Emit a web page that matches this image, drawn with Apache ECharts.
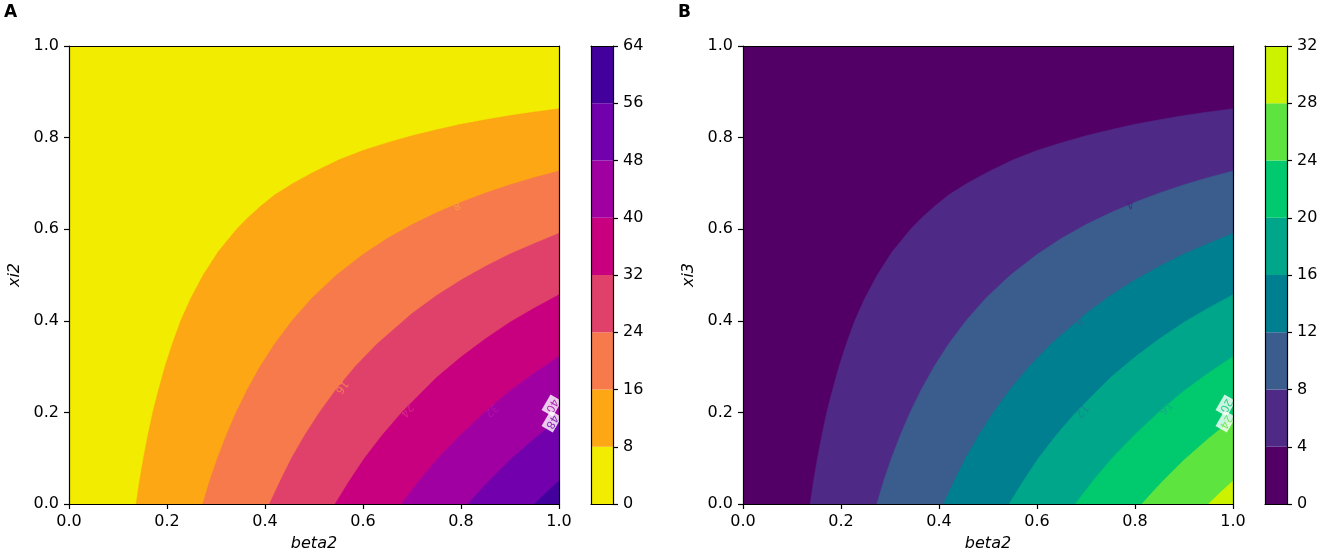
<!DOCTYPE html>
<html>
<head>
<meta charset="utf-8">
<script src="https://cdn.jsdelivr.net/npm/echarts@6/dist/echarts.min.js"></script>
<style>
  html, body { margin: 0; padding: 0; background: #fff; }
  #chart { width: 1325px; height: 560px; }
</style>
</head>
<body>
<div id="chart"></div>
<script>
// contour levels shown on the two colour bars
const levelsA = [0, 8, 16, 24, 32, 40, 48, 56, 64];
const levelsB = [0, 4, 8, 12, 16, 20, 24, 28, 32];
const colorsA = ['#f2ec00', '#fca713', '#f77a4c', '#e0416a', '#c8007f', '#a000a2', '#7200ac', '#44009c'];
const colorsB = ['#530066', '#4e2a86', '#3a5d8e', '#007f90', '#00a68a', '#00c96e', '#5ee43e', '#cdf200'];

// contour boundaries, [beta2, xi], from bottom edge to right edge
// (both panels share the same boundary shapes)
const edge1 = [[0.137, 0], [0.144, 0.05], [0.152, 0.1], [0.161, 0.15], [0.171, 0.2], [0.183, 0.25], [0.196, 0.3],
    [0.211, 0.35], [0.228, 0.4], [0.249, 0.45], [0.274, 0.5], [0.304, 0.55], [0.342, 0.6], [0.365, 0.625],
    [0.391, 0.65], [0.42, 0.675], [0.457, 0.7], [0.5, 0.725], [0.55, 0.751], [0.6, 0.772], [0.65, 0.789],
    [0.7, 0.804], [0.75, 0.817], [0.8, 0.829], [0.85, 0.839], [0.9, 0.848], [0.95, 0.856], [1, 0.863]];
const edge2 = [[0.273, 0], [0.287, 0.05], [0.303, 0.1], [0.321, 0.15], [0.341, 0.2], [0.364, 0.25], [0.39, 0.3],
    [0.42, 0.35], [0.455, 0.4], [0.496, 0.45], [0.546, 0.5], [0.6, 0.545], [0.65, 0.58], [0.7, 0.61],
    [0.75, 0.636], [0.8, 0.659], [0.85, 0.679], [0.9, 0.697], [0.95, 0.713], [1, 0.727]];
const edge3 = [[0.409, 0], [0.431, 0.05], [0.454, 0.1], [0.481, 0.15], [0.511, 0.2], [0.545, 0.25], [0.584, 0.3],
    [0.629, 0.35], [0.7, 0.416], [0.75, 0.455], [0.8, 0.489], [0.85, 0.519], [0.9, 0.546], [0.95, 0.569], [1, 0.591]];
const edge4 = [[0.543, 0], [0.572, 0.05], [0.603, 0.1], [0.639, 0.15], [0.679, 0.2], [0.75, 0.276], [0.8, 0.321],
    [0.85, 0.361], [0.9, 0.397], [0.95, 0.428], [1, 0.457]];
const edge5 = [[0.678, 0], [0.714, 0.05], [0.753, 0.1], [0.8, 0.152], [0.85, 0.202], [0.9, 0.247], [0.95, 0.286], [1, 0.322]];
const edge6 = [[0.814, 0], [0.835, 0.025], [0.857, 0.05], [0.9, 0.096], [0.95, 0.143], [1, 0.186]];
const edge7 = [[0.95, 0], [0.975, 0.026], [1, 0.05]];
const edges = [edge1, edge2, edge3, edge4, edge5, edge6, edge7];

// inline contour labels: [beta2, xi, text, rotation, colour]
const labelsA = [
    [0.791, 0.652, '8', -156, '#f9a43a'],
    [0.556, 0.256, '16', -127, '#f58a4e'],
    [0.689, 0.205, '24', -131, '#d6338a'],
    [0.862, 0.205, '32', -137, '#b416a6'],
    [0.985, 0.215, '40', -120, '#a000a2'],
    [0.985, 0.18, '48', -120, '#7200ac']
];
const labelsB = [
    [0.789, 0.655, '4', -156, '#4a1f7e'],
    [0.684, 0.40, '8', -139, '#3a5d8e'],
    [0.691, 0.204, '12', -131, '#1b7f8e'],
    [0.862, 0.211, '16', -137, '#12a78a'],
    [0.985, 0.215, '20', -120, '#00c96e'],
    [0.985, 0.18, '24', -120, '#5ee43e']
];

const FONT = 'DejaVu Sans';
const black = '#000';

const chart = echarts.init(document.getElementById('chart'));

// spine-only axis (no ticks, no labels)
function lineOnly(gi, pos, min, max) {
    return {
        gridIndex: gi, type: 'value', min: min, max: max, position: pos,
        axisLine: { show: true, onZero: false, lineStyle: { color: black, width: 1.2 } },
        axisTick: { show: false }, axisLabel: { show: false }, splitLine: { show: false }, z: 10
    };
}

function tickAxis(gi, pos, min, max, step, name, fmt) {
    return {
        gridIndex: gi, type: 'value', min: min, max: max, interval: step, position: pos,
        name: name, nameLocation: 'middle', nameGap: pos === 'bottom' ? 32 : 46,
        nameTextStyle: { fontStyle: 'italic', fontSize: 16, color: black, fontFamily: FONT },
        axisLine: { show: true, onZero: false, lineStyle: { color: black, width: 1.2 } },
        axisTick: { show: true, inside: false, length: 5, lineStyle: { color: black, width: 1.2 } },
        axisLabel: { fontSize: 16, color: black, margin: 10, fontFamily: FONT, formatter: fmt, showMinLabel: true, showMaxLabel: true },
        splitLine: { show: false }, z: 10
    };
}

const fmt1 = v => v.toFixed(1);
const fmt0 = v => String(v);

const grids = [
    { left: 69, top: 46, width: 490, height: 458 },
    { left: 591, top: 46, width: 22, height: 458 },
    { left: 743, top: 46, width: 490, height: 458 },
    { left: 1265, top: 46, width: 22, height: 458 }
];

// xAxis: 0,1 plot A; 2,3 colourbar A; 4,5 plot B; 6,7 colourbar B
const xAxes = [
    tickAxis(0, 'bottom', 0, 1, 0.2, 'beta2', fmt1), lineOnly(0, 'top', 0, 1),
    lineOnly(1, 'bottom', 0, 1), lineOnly(1, 'top', 0, 1),
    tickAxis(2, 'bottom', 0, 1, 0.2, 'beta2', fmt1), lineOnly(2, 'top', 0, 1),
    lineOnly(3, 'bottom', 0, 1), lineOnly(3, 'top', 0, 1)
];
const yAxes = [
    tickAxis(0, 'left', 0, 1, 0.2, 'xi2', fmt1), lineOnly(0, 'right', 0, 1),
    lineOnly(1, 'left', 0, 64), tickAxis(1, 'right', 0, 64, 8, '', fmt0),
    tickAxis(2, 'left', 0, 1, 0.2, 'xi3', fmt1), lineOnly(2, 'right', 0, 1),
    lineOnly(3, 'left', 0, 32), tickAxis(3, 'right', 0, 32, 4, '', fmt0)
];

// filled bands: paint whole area, then each region below/right of a boundary
function contourSeries(xi, yi, colors) {
    return {
        type: 'custom', xAxisIndex: xi, yAxisIndex: yi, silent: true, clip: true,
        data: colors.map((c, i) => [i]),
        renderItem: function (params, api) {
            const k = api.value(0);
            const pts = k === 0 ? [[0, 0], [0, 1], [1, 1], [1, 0]] : edges[k - 1].concat([[1, 0]]);
            return {
                type: 'polygon', z2: k,
                shape: { points: pts.map(p => api.coord(p)), smooth: 0 },
                style: { fill: colors[k], stroke: colors[k], lineWidth: 0.5 }
            };
        }
    };
}

function colorbarSeries(xi, yi, levels, colors) {
    return {
        type: 'custom', xAxisIndex: xi, yAxisIndex: yi, silent: true,
        data: colors.map((c, i) => [i]),
        renderItem: function (params, api) {
            const k = api.value(0);
            const p1 = api.coord([0, levels[k + 1]]);
            const p2 = api.coord([1, levels[k]]);
            return {
                type: 'rect', z2: k,
                shape: { x: p1[0], y: p1[1], width: p2[0] - p1[0], height: p2[1] - p1[1] },
                style: { fill: colors[k] }
            };
        }
    };
}

function labelSeries(xi, yi, labels) {
    return {
        type: 'scatter', xAxisIndex: xi, yAxisIndex: yi, silent: true, symbolSize: 0, z: 5,
        data: labels.map(l => {
            const edge = l[0] > 0.95;
            return {
                value: [l[0], l[1]], name: l[2],
                label: {
                    show: true, position: 'inside', formatter: '{b}', rotate: l[3], color: l[4],
                    fontSize: 11, fontFamily: FONT,
                    backgroundColor: edge ? '#fff' : 'transparent', padding: edge ? [1, 2] : 0
                }
            };
        })
    };
}

chart.setOption({
    animation: false,
    textStyle: { fontFamily: FONT },
    grid: grids,
    xAxis: xAxes,
    yAxis: yAxes,
    graphic: [
        { type: 'text', left: 4, top: 4, style: { text: 'A', font: 'bold 17px "DejaVu Sans"', fill: black } },
        { type: 'text', left: 678, top: 4, style: { text: 'B', font: 'bold 17px "DejaVu Sans"', fill: black } }
    ],
    series: [
        contourSeries(0, 0, colorsA),
        colorbarSeries(2, 2, levelsA, colorsA),
        contourSeries(4, 4, colorsB),
        colorbarSeries(6, 6, levelsB, colorsB),
        labelSeries(0, 0, labelsA),
        labelSeries(4, 4, labelsB)
    ]
});
</script>
</body>
</html>
